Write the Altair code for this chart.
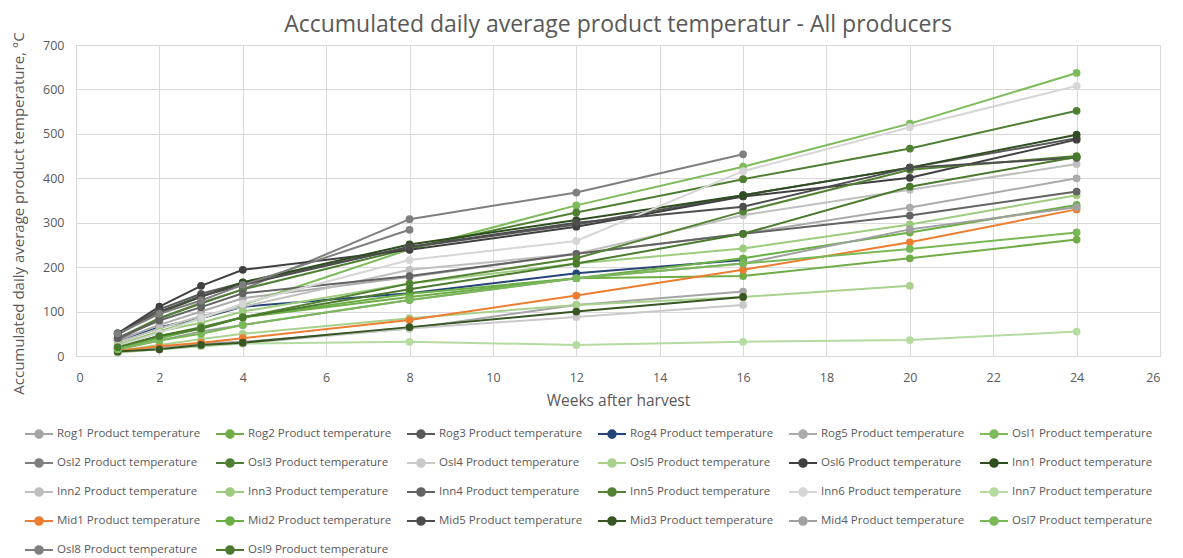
import altair as alt
import pandas as pd

weeks = [1, 2, 3, 4, 8, 12, 16, 20, 24]

series_names = [
    "Rog1", "Rog2", "Rog3", "Rog4", "Rog5", "Osl1",
    "Osl2", "Osl3", "Osl4", "Osl5", "Osl6", "Inn1",
    "Inn2", "Inn3", "Inn4", "Inn5", "Inn6", "Inn7",
    "Mid1", "Mid2", "Mid5", "Mid3", "Mid4", "Osl7",
    "Osl8", "Osl9",
]

series_colors = [
    "#A5A5A5", "#70AD47", "#595959", "#264478", "#ABABAB", "#7DBB5B",
    "#7F7F7F", "#4F7F33", "#C9C9C9", "#A9D18E", "#404040", "#2E4E1F",
    "#BFBFBF", "#9DCC7E", "#636363", "#548235", "#D6D6D6", "#B5DBA0",
    "#ED7D31", "#6AAF45", "#4D4D4D", "#375623", "#A0A0A0", "#78B857",
    "#7F7F7F", "#4A7A2E",
]

# values at weeks 1,2,3,4,8,12,16,20,24 (None = no measurement)
Rog1 = [8, 18, 28, 32, 62, 115, 145, None, None]
Rog2 = [20, 45, 62, 87, 133, 175, 180, 220, 262]
Rog3 = [50, 105, 140, 165, 245, 296, 362, 424, 490]
Rog4 = [35, 65, 85, 111, 141, 186, 216, None, None]
Rog5 = [35, 70, 100, 130, 178, 230, 275, 334, 400]
Osl1 = [25, 55, 85, 115, 240, 339, 426, 523, 637]
Osl2 = [35, 85, 120, 150, 308, 368, 454, None, None]
Osl3 = [40, 85, 118, 150, 242, 323, 398, 467, 552]
Osl4 = [8, 15, 22, 28, 62, 88, 115, None, None]
Osl5 = [12, 25, 38, 50, 85, 115, 133, 158, None]
Osl6 = [51, 111, 158, 194, 239, 291, 359, 401, 487]
Inn1 = [51, 97, 133, 166, 251, 306, 362, 424, 498]
Inn2 = [30, 62, 90, 111, 194, 230, 317, 374, 432]
Inn3 = [25, 55, 75, 100, 163, 208, 242, 296, 362]
Inn4 = [40, 80, 110, 141, 180, 230, 275, 316, 370]
Inn5 = [20, 45, 65, 87, 163, 220, 325, 419, 450]
Inn6 = [22, 52, 85, 118, 216, 259, 416, 515, 608]
Inn7 = [8, 15, 22, 28, 32, 25, 32, 36, 55]
Mid1 = [12, 22, 30, 40, 81, 136, 194, 256, 330]
Mid2 = [18, 40, 62, 87, 140, 175, 220, 278, 340]
Mid5 = [48, 100, 135, 160, 246, 300, 336, 424, 446]
Mid3 = [10, 15, 25, 30, 65, 100, 133, None, None]
Mid4 = [15, 35, 55, 70, 126, 175, 208, 285, 335]
Osl7 = [15, 35, 50, 70, 126, 175, 208, 241, 278]
Osl8 = [50, 95, 125, 160, 284, None, None, None, None]
Osl9 = [20, 45, 62, 87, 150, 208, 275, 381, 448]

values_by_series = {
    "Rog1": Rog1, "Rog2": Rog2, "Rog3": Rog3, "Rog4": Rog4, "Rog5": Rog5,
    "Osl1": Osl1, "Osl2": Osl2, "Osl3": Osl3, "Osl4": Osl4, "Osl5": Osl5,
    "Osl6": Osl6, "Inn1": Inn1, "Inn2": Inn2, "Inn3": Inn3, "Inn4": Inn4,
    "Inn5": Inn5, "Inn6": Inn6, "Inn7": Inn7, "Mid1": Mid1, "Mid2": Mid2,
    "Mid5": Mid5, "Mid3": Mid3, "Mid4": Mid4, "Osl7": Osl7, "Osl8": Osl8,
    "Osl9": Osl9,
}

rows = []
for i, name in enumerate(series_names):
    label = f"{name} Product temperature"
    for w, v in zip(weeks, values_by_series[name]):
        if v is not None:
            rows.append({"series": label, "order": i, "week": w, "value": v})
df = pd.DataFrame(rows)

labels = [f"{n} Product temperature" for n in series_names]

FONT = "Open Sans"
TXT = "#595959"

legend_symbol = ("M-1,0L-0.27,0M0.27,0L1,0"
                 "M-0.27,0A0.27,0.27,0,1,1,0.27,0A0.27,0.27,0,1,1,-0.27,0Z")

color = alt.Color(
    "series:N",
    scale=alt.Scale(domain=labels, range=series_colors),
    sort=labels,
    legend=alt.Legend(
        title=None,
        orient="none",
        direction="horizontal",
        legendX=-52,
        legendY=374,
        columns=6,
        gridAlign="all",
        columnPadding=11,
        rowPadding=6,
        symbolType=legend_symbol,
        symbolSize=784,
        symbolStrokeWidth=2,
        labelFont=FONT,
        labelFontSize=11.5,
        labelColor=TXT,
        labelOffset=3,
        labelLimit=300,
    ),
)

x = alt.X(
    "week:Q",
    scale=alt.Scale(domain=[0, 26], nice=False),
    axis=alt.Axis(values=list(range(0, 27, 2)), title="Weeks after harvest",
                  labelPadding=15, titlePadding=10),
)
y = alt.Y(
    "value:Q",
    scale=alt.Scale(domain=[0, 700], nice=False),
    axis=alt.Axis(values=list(range(0, 701, 100)),
                  title="Accumulated daily average product temperature, °C",
                  labelPadding=12, titleX=-50, titleY=168),
)

base = alt.Chart(df).encode(x=x, y=y, color=color, order="order:Q")
lines = base.mark_line(strokeWidth=2).encode(detail="series:N")
points = base.mark_point(filled=True, size=60, opacity=1)

chart = (
    alt.layer(lines, points)
    .properties(
        width=1084,
        height=311,
        autosize=alt.AutoSizeParams(type="none"),
        padding={"left": 68, "top": 37, "right": 15, "bottom": 205},
        title=alt.TitleParams(
            "Accumulated daily average product temperatur - All producers",
            font=FONT, fontSize=23, fontWeight="normal", color=TXT,
            anchor="middle", offset=10, dy=15,
        ),
    )
    .configure_view(stroke="#D9D9D9")
    .configure_axis(
        gridColor="#D9D9D9", domain=False, ticks=False,
        labelFont=FONT, labelFontSize=12.5, labelColor=TXT,
        titleFont=FONT, titleFontSize=15.5, titleFontWeight="normal", titleColor=TXT,
    )
    .configure_axisY(titleFontSize=15)
)

chart.save("out.html", embed_options={"renderer": "svg", "actions": False})
